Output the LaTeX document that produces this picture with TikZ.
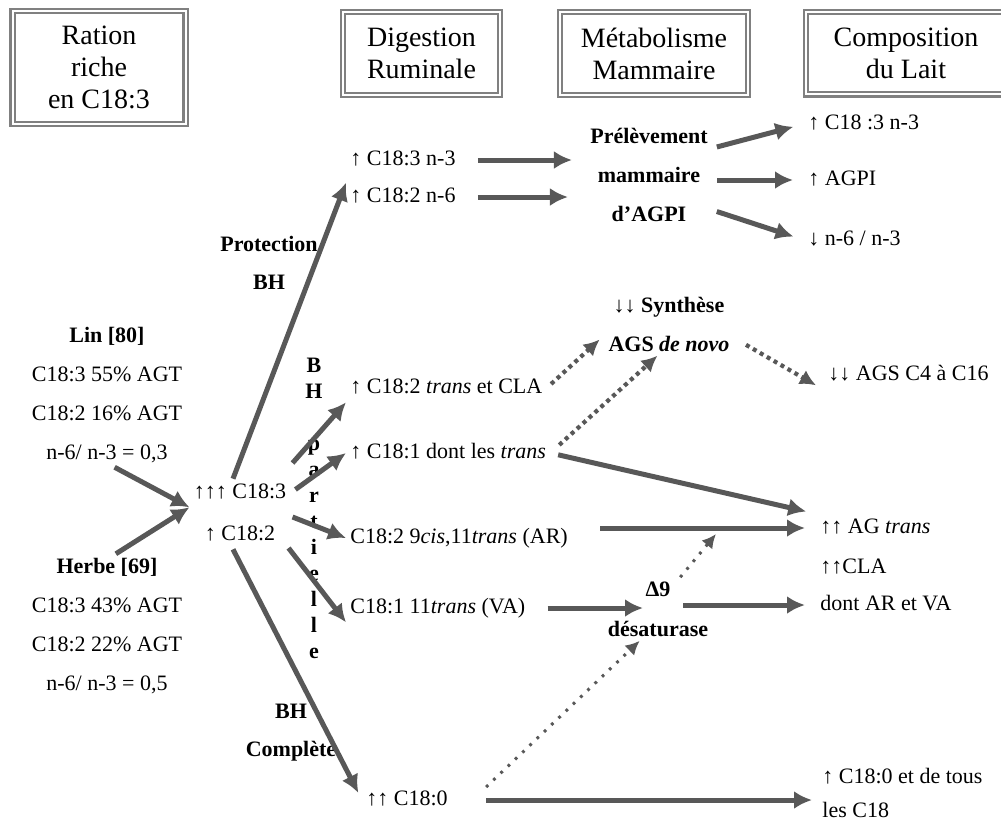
\documentclass[tikz,border=0pt]{standalone}
\usepackage{fontspec}
\setmainfont{Liberation Serif}
\usetikzlibrary{arrows.meta, calc}
\definecolor{framegray}{RGB}{128,128,128}
\definecolor{arrowgray}{RGB}{88,88,88}
\tikzset{hdr/.style={draw=framegray, double=white, double distance=1pt, line width=1.1pt, align=center, inner sep=0pt, font=\fontsize{14}{16}\selectfont}}
\tikzset{txt/.style={inner sep=2pt, anchor=west, font=\fontsize{11}{13}\selectfont, text height=7.7pt, text depth=2.2pt}}
\tikzset{mid/.style={inner sep=2pt, font=\fontsize{11}{13}\selectfont, text height=7.7pt, text depth=2.2pt}}
\tikzset{block/.style={inner sep=2pt, align=center, font=\fontsize{11}{19.5}\selectfont}}
\tikzset{boldblock/.style={block, font=\bfseries\fontsize{11}{19.5}\selectfont}}
\tikzset{flow/.style={line width=2.5pt, draw=arrowgray, -{Latex[length=9pt,width=9pt]}}}
\tikzset{dots/.style={line width=2.1pt, draw=arrowgray, dash pattern=on 2pt off 2pt, -{Latex[length=8pt,width=8pt]}}}
\tikzset{finedots/.style={line width=1.5pt, draw=arrowgray, dash pattern=on 1.4pt off 3.6pt, -{Latex[length=7pt,width=7pt]}}}

\begin{document}
\begin{tikzpicture}[x=0.5pt,y=-0.5pt]
        \useasboundingbox (0,0) rectangle (1001,827);
        % Headers
        \node[hdr, minimum width=86.5pt, minimum height=56.3pt] (ration) at (99,67.5) {Ration\\riche\\en C18:3};
        \node[hdr, minimum width=78.3pt, minimum height=41.3pt] (digestion) at (421.5,53.5) {Digestion\\Ruminale};
        \node[hdr, minimum width=93.8pt, minimum height=41.3pt] (metab) at (654,53.5) {Métabolisme\\Mammaire};
        \node[hdr, minimum width=100pt, minimum height=41.3pt] (compo) at (906,53) {Composition\\du Lait};
        % Rations
        \node[block] (lin) at (107,395) {\textbf{Lin [80]}\\C18:3 55\% AGT\\C18:2 16\% AGT\\n-6/ n-3 = 0,3};
        \node[block] (herbe) at (107,626) {\textbf{Herbe [69]}\\C18:3 43\% AGT\\C18:2 22\% AGT\\n-6/ n-3 = 0,5};
        \node[mid] (cthree) at (240,493) {↑↑↑ C18:3};
        \node[mid] (ctwo) at (240,535) {↑ C18:2};
        % Rumen
        \node[boldblock, font=\bfseries\fontsize{11}{19}\selectfont] (prot) at (269,263) {Protection\\BH};
        \node[boldblock, font=\bfseries\fontsize{11}{13}\selectfont] (bhpart) at (314,508) {B\\H\\~\\p\\a\\r\\t\\i\\e\\l\\l\\e};
        \node[boldblock, font=\bfseries\fontsize{11}{19}\selectfont] (bhcomp) at (291,733) {BH\\Complète};
        \node[txt] (nthree) at (346,160) {↑ C18:3 n-3};
        \node[txt] (nsix) at (346,197) {↑ C18:2 n-6};
        \node[txt] (tcla) at (346,388) {↑ C18:2 \textit{trans} et CLA};
        \node[txt] (tone) at (346,453) {↑ C18:1 dont les \textit{trans}};
        \node[txt] (ar) at (346,538) {C18:2 9\textit{cis},11\textit{trans} (AR)};
        \node[txt] (va) at (346,608) {C18:1 11\textit{trans} (VA)};
        \node[txt] (czero) at (362,800) {↑↑ C18:0};
        % Mammary gland
        \node[boldblock] (prel) at (649,175) {Prélèvement\\mammaire\\d’AGPI};
        \node[boldblock] (synth) at (669,324) {↓↓ Synthèse\\AGS \textit{de novo}};
        \node[boldblock, font=\bfseries\fontsize{11}{20}\selectfont] (delta) at (658,609) {Δ9\\désaturase};
        % Milk
        \node[txt] (rthree) at (804,124) {↑ C18 :3 n-3};
        \node[txt] (ragpi) at (804,180) {↑ AGPI};
        \node[txt] (rratio) at (804,240) {↓ n-6 / n-3};
        \node[txt] (agsdown) at (824,375) {↓↓ AGS C4 à C16};
        \node[txt] (agtrans) at (816,528) {↑↑ AG \textit{trans}};
        \node[txt] (cla) at (816,568) {↑↑CLA};
        \node[txt] (arva) at (816,605) {dont AR et VA};
        \node[block, align=left, anchor=west, font=\fontsize{11}{17}\selectfont] (allc) at (818,793) {↑ C18:0 et de tous\\les C18};
        % Arrows to C18:3
        \draw[flow] (lin.-84) -- (cthree.south west);
        \draw[flow] (herbe.83) -- (cthree.south west);
        % Protection
        \draw[flow] ($(cthree.north)+(-7,0)$) -- (nsix.north west);
        \draw[flow, shorten <=9pt, shorten >=7pt] (nthree.east) -- (nthree.east -| prel.west);
        \draw[flow, shorten <=9pt, shorten >=9pt] (nsix.east) -- (nsix.east -| prel.west);
        \draw[flow, shorten <=2.5pt, shorten >=5.5pt] (prel.23) -- (rthree.west);
        \draw[flow, shorten <=2.5pt, shorten >=5.5pt] (prel.east |- ragpi.west) -- (ragpi.west);
        \draw[flow, shorten <=2.5pt, shorten >=5.5pt] (prel.-29) -- (rratio.west);
        % Partial BH
        \draw[flow] ($(cthree.east)+(2,-30)$) -- (tcla.south west);
        \draw[flow, shorten <=3pt] (cthree.east) -- (tone.west);
        \draw[flow] ($(cthree.east)+(2,24)$) -- (ar.west);
        \draw[flow] ($(ctwo.east)+(9,13)$) -- (va.south west);
        % Complete BH
        \draw[flow, shorten >=4pt] ($(ctwo.south)+(-7,0)$) -- (czero.west);
        % de novo synthesis
        \draw[dots, shorten <=3pt, shorten >=3pt] (tcla.east) -- (synth.190);
        \draw[dots, shorten <=6pt] (tone.east) -- (synth.-110);
        \draw[dots, shorten <=7pt] (synth.-12) -- ($(agsdown.south west)+(-8,-4)$);
        % trans fatty acids
        \draw[flow, shorten <=4pt, shorten >=5pt] (tone.east) -- (agtrans.north west);
        \draw[flow, shorten <=14pt, shorten >=5.5pt] (ar.east |- agtrans.west) -- (agtrans.west);
        \draw[flow, shorten <=9pt, shorten >=7.5pt] (va.east) -- (va.east -| delta.center);
        \draw[flow, shorten <=12.5pt, shorten >=5.5pt] (delta.center |- arva.west) -- (arva.west);
        \coordinate (armeet) at (716,534);
        \draw[finedots] (delta.55) -- (armeet);
        \draw[finedots] ($(czero.east)+(34,-13)$) -- (delta.-120);
        \draw[flow, shorten <=17pt, shorten >=3pt] (czero.east) -- (czero.east -| allc.west);
\end{tikzpicture}
\end{document}
